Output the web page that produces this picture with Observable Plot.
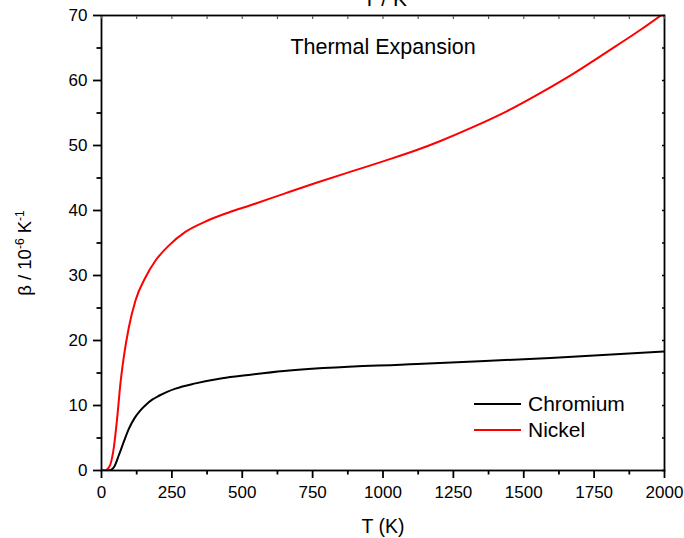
<!DOCTYPE html>
<html>
<head>
<meta charset="utf-8">
<script src="https://cdn.jsdelivr.net/npm/d3@7"></script>
<script src="https://cdn.jsdelivr.net/npm/@observablehq/plot@0.6"></script>
<style>
  body { margin: 0; background: #fff; }
  #chart svg { overflow: visible; display: block; }
</style>
</head>
<body>
<div id="chart"></div>
<script>
// ---- data ----
const crTemp = [0, 26, 44, 62, 79, 97, 118, 139, 160, 180, 204, 233, 263, 334, 429, 523, 648, 1121, 1595, 2000];
const crBeta = [0, 0, 0.5, 2.4, 4.4, 6.4, 8.1, 9.3, 10.2, 10.9, 11.5, 12.1, 12.6, 13.4, 14.2, 14.7, 15.3, 16.4, 17.3, 18.3];

const niTemp = [0, 14, 25, 32, 44, 56, 67, 79, 97, 121, 156, 192, 239, 298, 369, 452, 529, 650, 766, 880, 1003, 1120, 1204, 1323, 1441, 1560, 1678, 1796, 1915, 2000];
const niBeta = [0, 0, 0.4, 1.0, 3.6, 8.2, 13.3, 17.4, 22.0, 26.2, 29.7, 32.3, 34.6, 36.7, 38.3, 39.7, 40.8, 42.6, 44.3, 45.9, 47.6, 49.3, 50.7, 52.9, 55.3, 58.1, 61.1, 64.4, 67.8, 70.4];

const seriesNames = ["Chromium", "Nickel"];
const seriesColors = ["#000000", "#ff0000"];

const xTicks = [0, 250, 500, 750, 1000, 1250, 1500, 1750, 2000];
const xMinor = [125, 375, 625, 875, 1125, 1375, 1625, 1875];
const yTicks = [0, 10, 20, 30, 40, 50, 60, 70];
const yMinor = [5, 15, 25, 35, 45, 55, 65];

const titleText = "Thermal Expansion";
const xLabel = "T (K)";
const topLabel = "T / K";

// ---- build tables ----
const cr = crTemp.map((t, i) => ({T: t, beta: crBeta[i]}));
const ni = niTemp.map((t, i) => ({T: t, beta: niBeta[i]}));

const font = "'Liberation Sans', Arial, Helvetica, sans-serif";

const plot = Plot.plot({
  width: 684,
  height: 538,
  marginLeft: 101,
  marginRight: 20,
  marginTop: 15,
  marginBottom: 68,
  style: {fontFamily: font, fontSize: "17px", background: "white", color: "black", overflow: "visible"},
  x: {domain: [0, 2000]},
  y: {domain: [0, 70]},
  marks: [
    Plot.line(cr, {x: "T", y: "beta", stroke: seriesColors[0], strokeWidth: 2, curve: "monotone-x", clip: true}),
    Plot.line(ni, {x: "T", y: "beta", stroke: seriesColors[1], strokeWidth: 2, curve: "monotone-x", clip: true}),
    Plot.frame({stroke: "black", strokeWidth: 1.8}),
    Plot.axisX({ticks: xTicks, tickSize: 8, tickPadding: 7, strokeWidth: 1.8, label: null, fontSize: 17, tickFormat: d3.format("d")}),
    Plot.axisX({ticks: xMinor, tickSize: 4.5, strokeWidth: 1.8, text: null, label: null}),
    Plot.axisY({ticks: yTicks, tickSize: 8, tickPadding: 6, strokeWidth: 1.8, label: null, fontSize: 17, tickFormat: d3.format("d")}),
    Plot.axisY({ticks: yMinor, tickSize: 4.5, strokeWidth: 1.8, text: null, label: null}),
    Plot.axisX({anchor: "top", ticks: xTicks.concat(xMinor), tickSize: -3, strokeWidth: 1.2, stroke: "#555", text: null, label: null}),
    Plot.axisY({anchor: "right", ticks: yTicks.concat(yMinor), tickSize: -3, strokeWidth: 1.5, text: null, label: null}),
    Plot.text([titleText], {frameAnchor: "top", dy: 32, lineAnchor: "middle", fontSize: 21.5, fill: "black"}),
    Plot.text([xLabel], {frameAnchor: "bottom", dy: 56, lineAnchor: "middle", fontSize: 19.5, fill: "black"})
  ]
});

document.getElementById("chart").appendChild(plot);

const svg = d3.select(plot);

// top axis label (mostly cut off by the top edge, as in the reference)
svg.append("text")
  .attr("x", 385).attr("y", 6)
  .attr("text-anchor", "middle")
  .attr("font-family", font).attr("font-size", 21)
  .attr("fill", "black")
  .text(topLabel);

// y-axis label with superscripts
const yl = svg.append("text")
  .attr("transform", "translate(31,253) rotate(-90)")
  .attr("text-anchor", "middle")
  .attr("font-family", font).attr("font-size", 18.5)
  .attr("fill", "black");
yl.append("tspan").text("β / 10");
yl.append("tspan").attr("font-size", 12).attr("dy", -7).text("-6");
yl.append("tspan").attr("dy", 7).text(" K");
yl.append("tspan").attr("font-size", 12).attr("dy", -7).text("-1");

// legend
const legendY = [404, 430];
seriesNames.forEach((name, i) => {
  svg.append("line")
    .attr("x1", 474).attr("x2", 521)
    .attr("y1", legendY[i]).attr("y2", legendY[i])
    .attr("stroke", seriesColors[i]).attr("stroke-width", 2);
  svg.append("text")
    .attr("x", 528).attr("y", legendY[i])
    .attr("dy", "0.35em")
    .attr("text-anchor", "start")
    .attr("font-family", font).attr("font-size", 21)
    .attr("fill", "black")
    .text(name);
});
</script>
</body>
</html>
